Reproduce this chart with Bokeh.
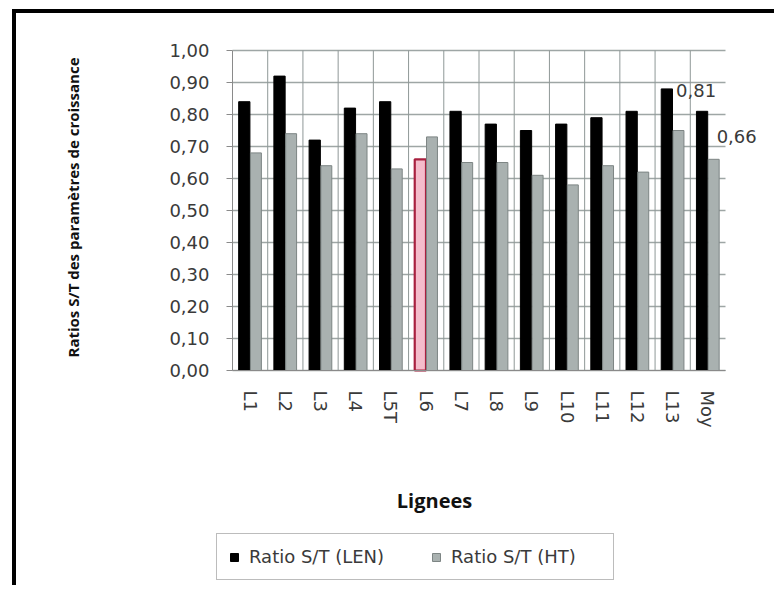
import math
from bokeh.plotting import figure
from bokeh.models import (ColumnDataSource, Range1d, FixedTicker, Label,
                          CustomJSTickFormatter, Legend, LegendItem)
from bokeh.transform import dodge
from bokeh.core.properties import value
from bokeh.embed import file_html
from bokeh.resources import INLINE

# --- data -------------------------------------------------------------
lignees = ["L1", "L2", "L3", "L4", "L5T", "L6", "L7", "L8", "L9",
           "L10", "L11", "L12", "L13", "Moy"]
ratio_len = [0.84, 0.92, 0.72, 0.82, 0.84, 0.66, 0.81, 0.77, 0.75,
             0.77, 0.79, 0.81, 0.88, 0.81]
ratio_ht = [0.68, 0.74, 0.64, 0.74, 0.63, 0.73, 0.65, 0.65, 0.61,
            0.58, 0.64, 0.62, 0.75, 0.66]
y_ticks = [0.0, 0.1, 0.2, 0.3, 0.4, 0.5, 0.6, 0.7, 0.8, 0.9, 1.0]
highlighted = "L6"
labelled = "Moy"

series_names = ["Ratio S/T (LEN)", "Ratio S/T (HT)"]
y_title = "Ratios S/T des paramètres de croissance"
x_title = "Lignees"

# --- styling ----------------------------------------------------------
BLACK = "#000000"
GREY_FILL = "#a9b1b0"
GREY_LINE = "#7d8584"
PINK_FILL = "#f4bccb"
RED_LINE = "#a8203f"
TEXT = "#3a3a3a"
GRID = "#9ea6a5"
TICK_FONT = "DejaVu Sans"
TITLE_FONT = "Open Sans"

# page geometry: the figure sits inside a black L-shaped frame
OFF_X, OFF_Y = 16, 13
W, H = 778 - OFF_X, 589 - OFF_Y
AXIS_X, CAT_END_X = 232, 725          # plot area, horizontally
TOP_Y, ZERO_Y = 50, 370               # value 1.0 and 0.0, vertically


def fr(v):
    return f"{v:.2f}".replace(".", ",")


n = len(lignees)
pos = list(range(n))
px_per_cat = (CAT_END_X - AXIS_X) / n
px_per_unit = ZERO_Y - TOP_Y
x0 = -0.5 - (AXIS_X - OFF_X) / px_per_cat
x1 = -0.5 + (778 - AXIS_X) / px_per_cat
y0 = -(589 - ZERO_Y) / px_per_unit
y1 = 1 + (TOP_Y - OFF_Y) / px_per_unit

len_fill = [PINK_FILL if c == highlighted else BLACK for c in lignees]
len_line = [RED_LINE if c == highlighted else BLACK for c in lignees]
len_lw = [2.2 if c == highlighted else 1 for c in lignees]

src = ColumnDataSource(dict(x=pos, cat=lignees, len=ratio_len, ht=ratio_ht,
                            len_fill=len_fill, len_line=len_line, len_lw=len_lw))

i = lignees.index(labelled)
lab_src = ColumnDataSource(dict(x=[pos[i]], len=[ratio_len[i]], ht=[ratio_ht[i]],
                                len_txt=[fr(ratio_len[i])], ht_txt=[fr(ratio_ht[i])]))

p = figure(x_range=Range1d(x0, x1), y_range=Range1d(y0, y1),
           width=W, height=H, output_backend="svg", toolbar_location=None,
           min_border=0,
           styles={"margin-left": f"{OFF_X - 4}px", "margin-top": f"{OFF_Y - 4}px",
                   "border-left": "4px solid #000", "border-top": "4px solid #000"})
p.outline_line_color = None
p.background_fill_color = "white"
p.border_fill_color = "white"
p.xgrid.grid_line_color = None
p.ygrid.grid_line_color = None

# horizontal gridlines across the category area
p.segment(x0=-0.5, x1=n - 0.5, y0=y_ticks, y1=y_ticks,
          line_color=GRID, line_width=1.5)
# vertical separators between categories
p.segment(x0=[k + 0.5 for k in pos[:-1]], x1=[k + 0.5 for k in pos[:-1]],
          y0=0, y1=1, line_color="#8f9897", line_width=1)

# bars
r_len = p.vbar(x=dodge("x", -0.165), top="len", width=0.32,
               source=src, fill_color="len_fill", line_color="len_line",
               line_width="len_lw")
r_ht = p.vbar(x=dodge("x", 0.165), top="ht", width=0.31,
              source=src, fill_color=GREY_FILL, line_color=GREY_LINE, line_width=1)

# value labels for the mean
p.text(x=dodge("x", -0.165), y="len", text="len_txt", source=lab_src,
       text_align="center", text_baseline="bottom", x_offset=-6, y_offset=-14,
       text_font=value(TICK_FONT), text_font_size="18px", text_color=TEXT)
p.text(x=dodge("x", 0.165), y="ht", text="ht_txt", source=lab_src,
       text_align="center", text_baseline="bottom", x_offset=23, y_offset=-16,
       text_font=value(TICK_FONT), text_font_size="18px", text_color=TEXT)

# y axis, pinned to the left edge of the category area
ya = p.yaxis[0]
ya.fixed_location = -0.5
ya.bounds = (0, 1)
ya.ticker = FixedTicker(ticks=y_ticks)
ya.formatter = CustomJSTickFormatter(code="return tick.toFixed(2).replace('.', ',');")
ya.major_label_text_font = TICK_FONT
ya.major_label_text_font_size = "18px"
ya.major_label_text_color = TEXT
ya.axis_line_color = "#8a8a8a"
ya.major_tick_line_color = "#8a8a8a"
ya.major_tick_out = 6
ya.major_tick_in = 0
ya.minor_tick_line_color = None
ya.major_label_standoff = 17

# x axis, pinned to zero
xa = p.xaxis[0]
xa.fixed_location = 0
xa.bounds = (-0.5, n - 0.5)
xa.ticker = FixedTicker(ticks=pos)
xa.major_label_overrides = {k: c for k, c in zip(pos, lignees)}
xa.major_label_orientation = "vertical"
xa.major_label_text_font = TICK_FONT
xa.major_label_text_font_size = "18px"
xa.major_label_text_color = TEXT
xa.axis_line_color = "#8a8a8a"
xa.major_tick_line_color = None
xa.minor_tick_line_color = None
xa.major_label_standoff = 14

# axis titles
p.add_layout(Label(x=72 - OFF_X, y=589 - 207, x_units="screen", y_units="screen",
                   text=y_title, angle=math.pi / 2,
                   text_align="center", text_baseline="middle",
                   text_font=TITLE_FONT, text_font_style="bold",
                   text_font_size="15px", text_color="#111111"))
p.add_layout(Label(x=434 - OFF_X, y=589 - 500, x_units="screen", y_units="screen",
                   text=x_title, text_align="center", text_baseline="middle",
                   text_font=TITLE_FONT, text_font_style="bold",
                   text_font_size="20px", text_color="#111111"))

# legend
legend = Legend(items=[LegendItem(label=series_names[0], renderers=[r_len], index=0),
                       LegendItem(label=series_names[1], renderers=[r_ht], index=0)],
                orientation="horizontal", location=(216 - OFF_X, 589 - 580),
                glyph_width=10, glyph_height=10, label_standoff=10, spacing=32,
                padding=12, margin=0, label_width=150,
                label_text_font=TICK_FONT, label_text_font_size="18px",
                label_text_color=TEXT,
                border_line_color="#7a7a7a", border_line_width=1.5,
                background_fill_color="white", background_fill_alpha=1)
p.add_layout(legend)

open("out.html", "w").write(file_html(p, INLINE))
